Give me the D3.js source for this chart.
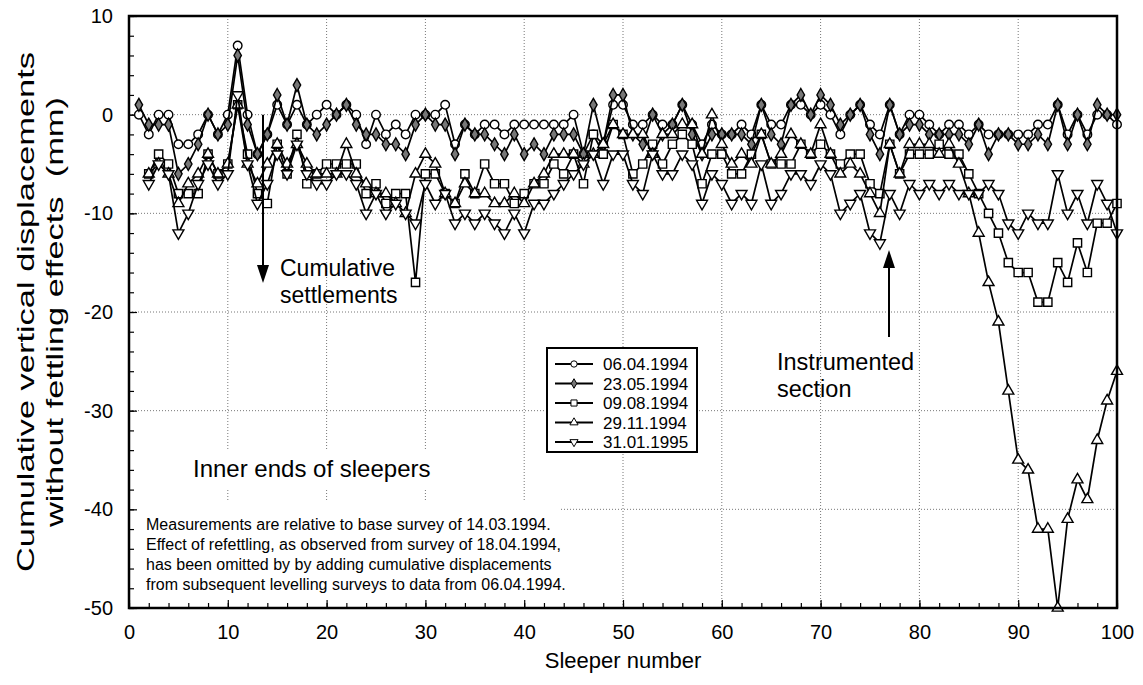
<!DOCTYPE html>
<html>
<head>
<meta charset="utf-8">
<script src="https://cdn.jsdelivr.net/npm/d3@7"></script>
<style>
  body { margin: 0; background: #fff; }
  svg { display: block; font-family: Arial, "Liberation Sans", sans-serif; }
</style>
</head>
<body>
<svg id="grafico" width="1143" height="685"></svg>
<script>
// DATI

var etichette = ["06.04.1994", "23.05.1994", "09.08.1994", "29.11.1994", "31.01.1995"];
var primaTraversina = [1, 1, 2, 2, 2];

var serie0604 = [
  0, -2, 0, 0, -3, -3, -2, 0, -2, 0,
  7, 0, -4, -2, 1, -1, 1, -1, 0, 1,
  0, 1, 0, -3, 0, -2, -1, -2, 0, 0,
  0, 1, -3, -1, -2, -1, -1, -2, -1, -1,
  -1, -1, -1, -1, 0, -4, -2, -3, 1, 1,
  -1, -1, 0, -1, -1, 1, -1, -3, -1, -2,
  -2, -1, -2, 1, -1, -1, 1, 1, 0, 1,
  0, -2, 0, 1, -1, -2, 1, -2, 0, 0,
  -1, -2, -1, -1, -2, -1, -2, -2, -2, -2,
  -2, -1, -1, 1, -2, 0, -2, 0, 0, -1
];

var serie2305 = [
  1, -1, -1, -1, -6, -5, -3, 0, -2, -1,
  6, -1, -4, -2, 2, -1, 3, -1, -2, -1,
  0, 1, -1, -2, -2, -3, -3, -4, -1, 0,
  -1, -1, -4, -1, -2, -2, -3, -4, -2, -4,
  -3, -4, -2, -2, -2, -4, 1, -3, 2, 2,
  -2, -3, 0, -2, -1, 1, -2, -4, -2, -2,
  -2, -2, -3, 1, -2, -3, 1, 2, 0, 2,
  1, -1, 0, 1, -2, -4, 1, -2, -1, -1,
  -2, -2, -2, -2, -3, -1, -4, -2, -2, -3,
  -3, -2, -3, 1, -3, 0, -3, 1, 0, 0
];

// dalla traversina 2
var serie0908 = [
  -6, -4, -5, -8, -8, -8, -4, -6, -5,
  1, -4, -8, -9, -3, -6, -2, -7, -6, -5,
  -5, -5, -5, -8, -7, -9, -8, -8, -17, -6,
  -6, -8, -9, -6, -8, -5, -7, -7, -9, -8,
  -7, -7, -5, -6, -4, -7, -2, -4, -1, -2,
  -6, -5, -3, -5, -3, -2, -3, -7, -4, -4,
  -6, -6, -4, -2, -5, -5, -5, -3, -4, -3,
  -4, -5, -4, -4, -7, -8, -3, -6, -4, -4,
  -4, -3, -4, -4, -6, -8, -10, -12, -15, -16,
  -16, -19, -19, -15, -17, -13, -16, -11, -11, -9
];

var serie2911 = [
  -6, -5, -6, -9, -7, -6, -4, -6, -5,
  1, -5, -7, -5, -3, -5, -3, -5, -6, -6,
  -6, -3, -6, -7, -8, -8, -9, -10, -6, -4,
  -5, -8, -9, -7, -8, -8, -9, -9, -8, -9,
  -7, -6, -4, -4, -4, -5, -4, -3, -1, -2,
  -2, -2, -4, -2, -2, -1, -1, -4, 0, -3,
  -5, -4, -5, -2, -5, -4, -2, -3, -4, -1,
  -4, -6, -5, -6, -8, -10, -3, -6, -3, -3,
  -3, -4, -3, -5, -8, -12, -17, -21, -28, -35,
  -36, -42, -42, -50, -41, -37, -39, -33, -29, -26
];

var serie3101 = [
  -7, -5, -6, -12, -10, -7, -5, -7, -6,
  2, -5, -9, -7, -4, -6, -3, -6, -7, -7,
  -6, -6, -7, -10, -8, -10, -9, -10, -11, -7,
  -9, -8, -11, -10, -11, -10, -11, -12, -10, -12,
  -9, -9, -8, -7, -6, -5, -4, -7, -4, -4,
  -7, -8, -4, -6, -6, -4, -5, -9, -6, -7,
  -9, -8, -9, -5, -9, -8, -6, -6, -7, -5,
  -6, -10, -9, -8, -12, -13, -8, -10, -7, -8,
  -7, -8, -7, -8, -8, -8, -7, -8, -11, -12,
  -10, -11, -11, -6, -10, -8, -11, -7, -9, -12
];

var tickX = [0, 10, 20, 30, 40, 50, 60, 70, 80, 90, 100];
var tickY = [10, 0, -10, -20, -30, -40, -50];
var grigliaX = [10, 20, 30, 40, 50, 60, 70, 80, 90];
var grigliaY = [0, -10, -20, -30, -40];

var note = [
  "Measurements are relative to base survey of 14.03.1994.",
  "Effect of refettling, as observed from survey of 18.04.1994,",
  "has been omitted by by adding cumulative displacements",
  "from subsequent levelling surveys to data from 06.04.1994."
];

// IMPOSTAZIONI

var sinistra = 129, destra = 1117, alto = 16, basso = 608;

var svg = d3.select("#grafico");

var x = d3.scaleLinear().domain([0, 100]).range([sinistra, destra]);
var y = d3.scaleLinear().domain([-50, 10]).range([basso, alto]);

var simboli = [
  { tipo: d3.symbolCircle, area: 58, fill: "white", rot: 0 },
  { tipo: d3.symbolDiamond, area: 48, fill: "#777", rot: 0 },
  { tipo: d3.symbolSquare, area: 68, fill: "white", rot: 0 },
  { tipo: d3.symbolTriangle, area: 52, fill: "white", rot: 0 },
  { tipo: d3.symbolTriangle, area: 52, fill: "white", rot: 180 }
];

var tutteLeSerie = [serie0604, serie2305, serie0908, serie2911, serie3101];

// GRIGLIA

svg.append("g")
  .selectAll("line")
  .data(grigliaX)
  .enter()
  .append("line")
  .attr("x1", d => x(d)).attr("x2", d => x(d))
  .attr("y1", alto).attr("y2", basso)
  .attr("stroke", "#777")
  .attr("stroke-width", 1)
  .attr("stroke-dasharray", "1,2");

svg.append("g")
  .selectAll("line")
  .data(grigliaY)
  .enter()
  .append("line")
  .attr("y1", d => y(d)).attr("y2", d => y(d))
  .attr("x1", sinistra).attr("x2", destra)
  .attr("stroke", "#777")
  .attr("stroke-width", 1)
  .attr("stroke-dasharray", "1,2");

// riquadri bianchi dietro ai testi
svg.append("rect")
  .attr("x", 185).attr("y", 450).attr("width", 258).attr("height", 38)
  .attr("fill", "white");
svg.append("rect")
  .attr("x", sinistra + 2).attr("y", 502).attr("width", 428).attr("height", 104)
  .attr("fill", "white");

// ASSI

var assePiccoloY = svg.append("g")
  .attr("transform", "translate(" + sinistra + ",0)")
  .call(d3.axisLeft(y).tickValues(d3.range(-50, 11, 2)).tickSize(-5).tickFormat(""));
assePiccoloY.select(".domain").remove();

var asseY = svg.append("g")
  .attr("transform", "translate(" + sinistra + ",0)")
  .call(d3.axisLeft(y).tickValues(tickY).tickSizeInner(-8).tickSizeOuter(0).tickPadding(16).tickFormat(d => String(d)));
asseY.select(".domain").remove();
asseY.selectAll("text").style("font-size", "20px").style("font-family", "Arial, 'Liberation Sans', sans-serif");

var assePiccoloX = svg.append("g")
  .attr("transform", "translate(0," + basso + ")")
  .call(d3.axisBottom(x).tickValues(d3.range(0, 101, 2)).tickSize(-5).tickFormat(""));
assePiccoloX.select(".domain").remove();

var asseX = svg.append("g")
  .attr("transform", "translate(0," + basso + ")")
  .call(d3.axisBottom(x).tickValues(tickX).tickSizeInner(-8).tickSizeOuter(0).tickPadding(17).tickFormat(d => String(d)));
asseX.select(".domain").remove();
asseX.selectAll("text").style("font-size", "20px").style("font-family", "Arial, 'Liberation Sans', sans-serif");

svg.selectAll(".tick line").attr("stroke", "black").attr("stroke-width", 1.2);

// SERIE

var linea = d3.line()
  .x(d => x(d.s))
  .y(d => y(d.v));

tutteLeSerie.forEach(function (valori, k) {

  var punti = valori.map((v, i) => ({ s: primaTraversina[k] + i, v: v }));

  svg.append("path")
    .datum(punti)
    .attr("d", linea)
    .attr("fill", "none")
    .attr("stroke", "black")
    .attr("stroke-width", 1.7);

  svg.append("g")
    .selectAll("path")
    .data(punti)
    .enter()
    .append("path")
    .attr("d", d3.symbol().type(simboli[k].tipo).size(simboli[k].area))
    .attr("transform", d => "translate(" + x(d.s) + "," + y(d.v) + ") rotate(" + simboli[k].rot + ")")
    .attr("fill", simboli[k].fill)
    .attr("stroke", "black")
    .attr("stroke-width", 1.4);

});

// CORNICE

svg.append("rect")
  .attr("x", sinistra).attr("y", alto)
  .attr("width", destra - sinistra).attr("height", basso - alto)
  .attr("fill", "none")
  .attr("stroke", "black")
  .attr("stroke-width", 2.5);

// LEGENDA

var legenda = svg.append("g");

legenda.append("rect")
  .attr("x", 547).attr("y", 348).attr("width", 150).attr("height", 104)
  .attr("fill", "white")
  .attr("stroke", "black")
  .attr("stroke-width", 2);

var voci = legenda.selectAll("g.voce")
  .data(etichette)
  .enter()
  .append("g")
  .attr("class", "voce")
  .attr("transform", (d, i) => "translate(555," + (364 + 19.5 * i) + ")");

voci.append("line")
  .attr("x1", 0).attr("x2", 38)
  .attr("y1", 0).attr("y2", 0)
  .attr("stroke", "black")
  .attr("stroke-width", 2);

voci.append("path")
  .attr("d", (d, i) => d3.symbol().type(simboli[i].tipo).size(simboli[i].area * 0.55)())
  .attr("transform", (d, i) => "translate(19,0) rotate(" + simboli[i].rot + ")")
  .attr("fill", (d, i) => simboli[i].fill)
  .attr("stroke", "black")
  .attr("stroke-width", 1);

voci.append("text")
  .attr("x", 48)
  .attr("y", 6)
  .style("font-size", "17px")
  .text(d => d);

// ANNOTAZIONI

function freccia(xf, yDa, yPunta, verso) {
  svg.append("line")
    .attr("x1", xf).attr("x2", xf)
    .attr("y1", yDa).attr("y2", yPunta - verso * 16)
    .attr("stroke", "black")
    .attr("stroke-width", 2);
  svg.append("path")
    .attr("d", "M" + xf + "," + yPunta +
      " L" + (xf - 6) + "," + (yPunta - verso * 18) +
      " L" + (xf + 6) + "," + (yPunta - verso * 18) + " Z")
    .attr("fill", "black");
}

freccia(263, y(0), 283, 1);
freccia(889, 337, 250, -1);

svg.append("text").attr("x", 280).attr("y", 276).style("font-size", "23px").text("Cumulative");
svg.append("text").attr("x", 280).attr("y", 303).style("font-size", "23px").text("settlements");
svg.append("text").attr("x", 777).attr("y", 370).style("font-size", "23.5px").text("Instrumented");
svg.append("text").attr("x", 777).attr("y", 397).style("font-size", "23.5px").text("section");
svg.append("text").attr("x", 193).attr("y", 477).style("font-size", "24px").text("Inner ends of sleepers");

svg.append("g")
  .selectAll("text")
  .data(note)
  .enter()
  .append("text")
  .attr("x", 146)
  .attr("y", (d, i) => 530 + 20 * i)
  .style("font-size", "16px")
  .text(d => d);

// TITOLI

svg.append("text")
  .attr("x", (sinistra + destra) / 2)
  .attr("y", 668)
  .attr("text-anchor", "middle")
  .style("font-size", "22px")
  .text("Sleeper number");

var titoloY = svg.append("g")
  .attr("transform", "translate(0," + ((alto + basso) / 2) + ") rotate(-90)");
titoloY.append("text")
  .attr("x", 0).attr("y", 34)
  .attr("text-anchor", "middle")
  .attr("textLength", 520)
  .attr("lengthAdjust", "spacingAndGlyphs")
  .style("font-size", "24px")
  .text("Cumulative vertical displacements");
titoloY.append("text")
  .attr("x", 0).attr("y", 63)
  .attr("text-anchor", "middle")
  .attr("textLength", 430)
  .attr("lengthAdjust", "spacingAndGlyphs")
  .attr("xml:space", "preserve")
  .style("font-size", "24px")
  .text("without fettling effects  (mm)");
</script>
</body>
</html>
